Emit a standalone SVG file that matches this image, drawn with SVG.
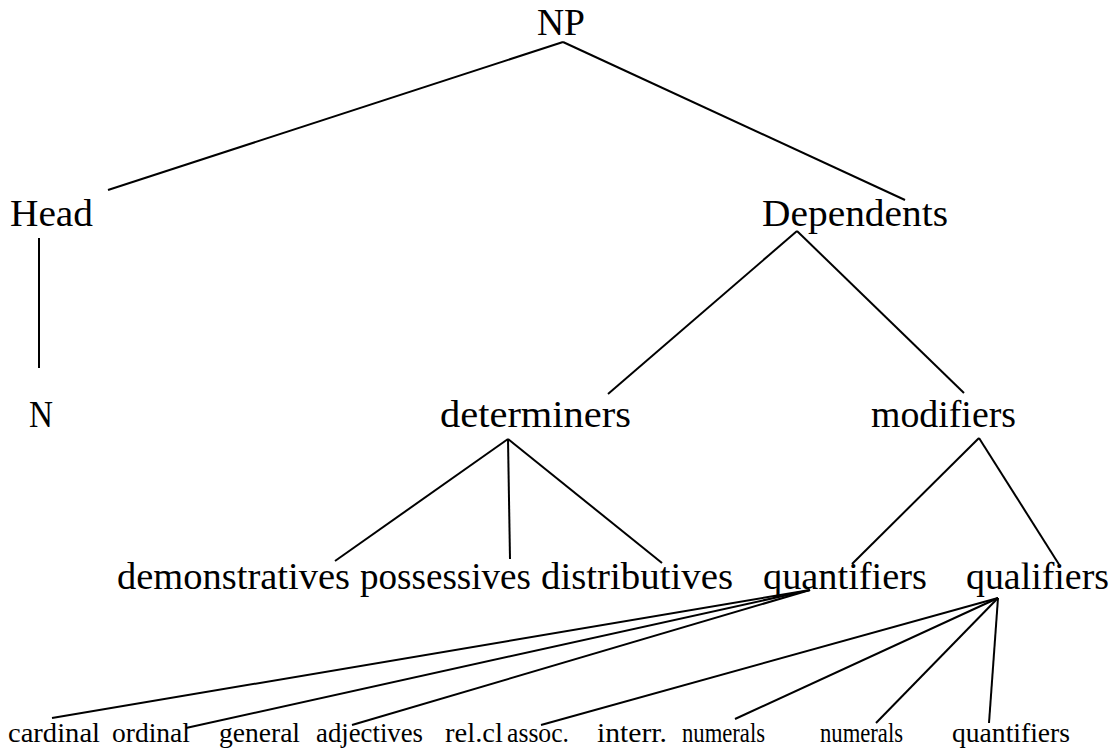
<svg xmlns="http://www.w3.org/2000/svg" width="1114" height="751" viewBox="0 0 1114 751">
<style>
text{font-family:"Liberation Serif","Times New Roman",serif;fill:#000}
.m{font-size:37px}
.s{font-size:27px}
#connectors line{stroke:#000;stroke-width:2;stroke-linecap:butt}
</style>
<rect width="1114" height="751" fill="#fff"/>
<g id="connectors">
<line x1="563" y1="42" x2="108" y2="190"/>
<line x1="563" y1="42" x2="905" y2="200"/>
<line x1="39" y1="238" x2="39" y2="368"/>
<line x1="797" y1="231" x2="608" y2="394"/>
<line x1="797" y1="231" x2="964" y2="393"/>
<line x1="508" y1="439" x2="335" y2="561"/>
<line x1="508" y1="439" x2="510" y2="559"/>
<line x1="508" y1="439" x2="662" y2="563"/>
<line x1="979" y1="438" x2="852" y2="564"/>
<line x1="979" y1="438" x2="1060" y2="566"/>
<line x1="810" y1="590" x2="52" y2="718"/>
<line x1="810" y1="590" x2="186" y2="728"/>
<line x1="810" y1="590" x2="352" y2="725"/>
<line x1="998" y1="598" x2="541" y2="725"/>
<line x1="998" y1="598" x2="735" y2="719"/>
<line x1="998" y1="598" x2="876" y2="723"/>
<line x1="998" y1="598" x2="989" y2="723"/>
</g>
<g id="np"><text class="m" x="537" y="35" textLength="48" lengthAdjust="spacingAndGlyphs">NP</text></g>
<g id="head"><text class="m" x="10" y="226" textLength="83" lengthAdjust="spacingAndGlyphs">Head</text></g>
<g id="dependents"><text class="m" x="762" y="226" textLength="186" lengthAdjust="spacingAndGlyphs">Dependents</text></g>
<g id="n"><text class="m" x="29" y="427" textLength="24" lengthAdjust="spacingAndGlyphs">N</text></g>
<g id="determiners"><text class="m" x="440" y="427" textLength="191" lengthAdjust="spacingAndGlyphs">determiners</text></g>
<g id="modifiers"><text class="m" x="871" y="427" textLength="145" lengthAdjust="spacingAndGlyphs">modifiers</text></g>
<g id="demonstratives"><text class="m" x="117" y="589" textLength="233" lengthAdjust="spacingAndGlyphs">demonstratives</text></g>
<g id="possessives"><text class="m" x="360" y="589" textLength="171" lengthAdjust="spacingAndGlyphs">possessives</text></g>
<g id="distributives"><text class="m" x="541" y="589" textLength="192" lengthAdjust="spacingAndGlyphs">distributives</text></g>
<g id="quantifiers"><text class="m" x="763" y="589" textLength="164" lengthAdjust="spacingAndGlyphs">quantifiers</text></g>
<g id="qualifiers"><text class="m" x="966" y="589" textLength="143" lengthAdjust="spacingAndGlyphs">qualifiers</text></g>
<g id="cardinal"><text class="s" x="8" y="742" textLength="92" lengthAdjust="spacingAndGlyphs">cardinal</text></g>
<g id="ordinal"><text class="s" x="112" y="742" textLength="78" lengthAdjust="spacingAndGlyphs">ordinal</text></g>
<g id="general-adjectives"><text class="s" x="219" y="742" textLength="81" lengthAdjust="spacingAndGlyphs">general</text><text class="s" x="316" y="742" textLength="107" lengthAdjust="spacingAndGlyphs">adjectives</text></g>
<g id="relcl-assoc"><text class="s" x="445" y="742" textLength="58" lengthAdjust="spacingAndGlyphs">rel.cl</text><text class="s" x="507" y="742" textLength="62" lengthAdjust="spacingAndGlyphs">assoc.</text></g>
<g id="interr-numerals"><text class="s" x="597" y="742" textLength="70" lengthAdjust="spacingAndGlyphs">interr.</text><text class="s" x="682" y="742" textLength="83" lengthAdjust="spacingAndGlyphs">numerals</text></g>
<g id="numerals"><text class="s" x="820" y="742" textLength="83" lengthAdjust="spacingAndGlyphs">numerals</text></g>
<g id="quantifiers2"><text class="s" x="952" y="742" textLength="118" lengthAdjust="spacingAndGlyphs">quantifiers</text></g>
</svg>
